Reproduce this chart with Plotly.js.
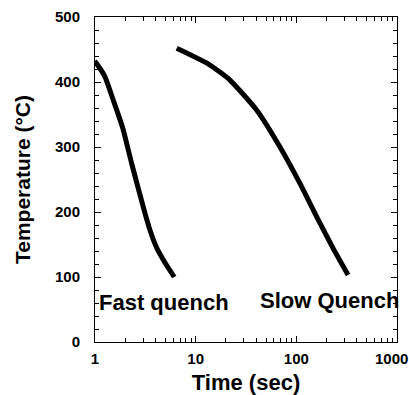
<!DOCTYPE html>
<html><head><meta charset="utf-8">
<script src="https://cdn.plot.ly/plotly-3.0.1.min.js"></script>
<style>html,body{margin:0;padding:0;background:#fff}</style>
</head><body><div id="chart" style="width:409px;height:395px"></div>
<script>
const fastTime = [0.99, 1.04, 1.257, 1.52, 1.88, 2.31, 3.14, 3.52, 4.10, 4.96, 6.13];
const fastTemp = [432, 428, 408, 372, 330, 275, 198, 172, 145, 122, 100];
const slowTime = [6.48, 13.3, 21.9, 40.3, 68.8, 108.6, 159, 232, 327];
const slowTemp = [452, 428, 403, 357, 300, 244, 193, 144, 103];
const xTickVals = [1, 10, 100, 1000];
const xTickText = ['1', '10', '100', '1000'];
const labels = [
  {text: 'Fast quench', x: 4.84, y: 61},
  {text: 'Slow Quench', x: 216, y: 64}
];
const font = 'Liberation Sans, Arial, sans-serif';
const lineStyle = {color: '#000', width: 5, shape: 'spline', smoothing: 0.5};
const traces = [
  {x: fastTime, y: fastTemp, mode: 'lines', line: lineStyle, showlegend: false},
  {x: slowTime, y: slowTemp, mode: 'lines', line: lineStyle, showlegend: false}
];
const lastIdx = xTickVals.length - 1;
const layout = {
  width: 409, height: 395,
  margin: {l: 95, r: 12, t: 17, b: 53},
  paper_bgcolor: '#fff', plot_bgcolor: '#fff',
  font: {family: font, color: '#000', weight: 'bold'},
  xaxis: {
    type: 'log', range: [0, 3.0001],
    tickmode: 'array', tickvals: xTickVals,
    ticktext: xTickText.map((t, i) => i === lastIdx ? ' ' : t),
    ticks: 'inside', ticklen: 6, tickcolor: '#000', tickwidth: 1,
    minor: {ticks: 'inside', ticklen: 4, dtick: 'D1', tickcolor: '#000'},
    showline: true, linecolor: '#000', linewidth: 1, mirror: 'ticks',
    showgrid: false, zeroline: false,
    ticklabelstandoff: 3,
    tickfont: {size: 15, family: font, weight: 'bold'},
    title: {text: 'Time (sec)', font: {size: 22, family: font, weight: 'bold'}, standoff: 9}
  },
  yaxis: {
    range: [0, 500], dtick: 100,
    ticks: 'inside', ticklen: 6, tickcolor: '#000', tickwidth: 1,
    minor: {ticks: 'inside', ticklen: 4, dtick: 20, tickcolor: '#000'},
    showline: true, linecolor: '#000', linewidth: 1, mirror: 'ticks',
    showgrid: false, zeroline: false, ticklabelstandoff: 11,
    tickfont: {size: 15, family: font, weight: 'bold'},
    title: {text: 'Temperature (°C)', font: {size: 21, family: font, weight: 'bold'}, standoff: 18}
  },
  annotations: labels.map(l => ({
    text: l.text, x: Math.log10(l.x), y: l.y, xref: 'x', yref: 'y',
    showarrow: false, font: {size: 22, family: font, weight: 'bold', color: '#000'}
  })).concat([{
    text: xTickText[lastIdx], x: Math.log10(xTickVals[lastIdx]), y: 0, xref: 'x', yref: 'y',
    yanchor: 'top', yshift: -6, xshift: -5, showarrow: false,
    font: {size: 15, family: font, weight: 'bold', color: '#000'}
  }])
};
Plotly.newPlot('chart', traces, layout, {displayModeBar: false});
</script></body></html>
